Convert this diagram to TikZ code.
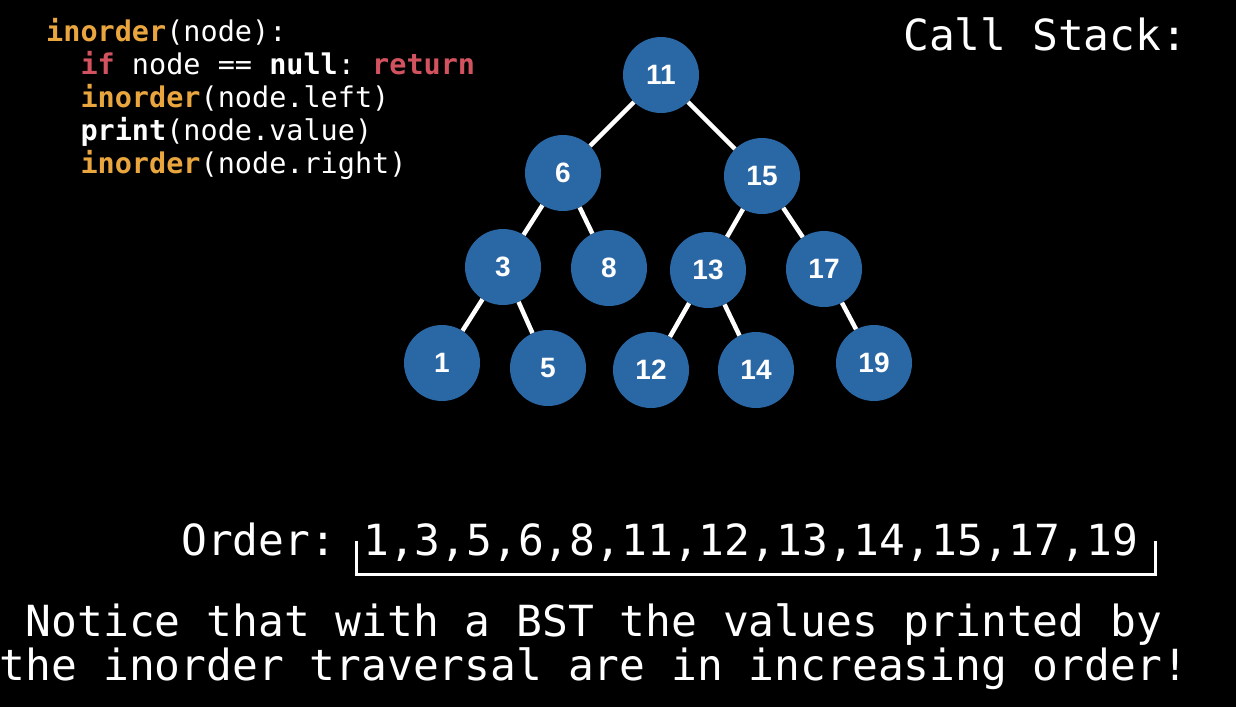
\documentclass[tikz,border=0pt]{standalone}
\usepackage{fontspec}
\setmainfont{Liberation Sans}
\setmonofont{DejaVu Sans Mono}
\definecolor{nodeblue}{HTML}{2A67A5}
\definecolor{kworange}{HTML}{E9A53E}
\definecolor{kwred}{HTML}{D2535F}
\begin{document}
\begin{tikzpicture}[x=1pt,y=-1pt,
  bstnode/.style={circle,fill=nodeblue,minimum size=76pt,inner sep=0pt,text=white,font=\fontsize{28}{28}\selectfont\bfseries},
  edge/.style={draw=white,line width=4.5pt},
  codeline/.style={anchor=base west,inner sep=0pt,text=white,font=\fontsize{28.5}{28.5}\ttfamily},
  bigtext/.style={inner sep=0pt,text=white,font=\fontsize{42.9}{42.9}\ttfamily},
  bracket/.style={draw=white,line width=3pt}]
\fill[black] (0,0) rectangle (1236,707);
\useasboundingbox (0,0) rectangle (1236,707);

% code
\node[codeline] (c1) at (46,41.5) {\textbf{\color{kworange}inorder}(node):};
\node[codeline] (c2) at (46,74.5) {\phantom{xx}\textbf{\color{kwred}if} node == \textbf{null}: \textbf{\color{kwred}return}};
\node[codeline] (c3) at (46,107.5) {\phantom{xx}\textbf{\color{kworange}inorder}(node.left)};
\node[codeline] (c4) at (46,140.5) {\phantom{xx}\textbf{print}(node.value)};
\node[codeline] (c5) at (46,173.5) {\phantom{xx}\textbf{\color{kworange}inorder}(node.right)};

\node[bigtext,anchor=base west] (cs) at (903,50) {Call Stack:};

% tree
\node[bstnode] (n11) at (661,75) {11};
\node[bstnode] (n6) at (563,173) {6};
\node[bstnode] (n15) at (762,176) {15};
\node[bstnode] (n3) at (503,267) {3};
\node[bstnode] (n8) at (609,268) {8};
\node[bstnode] (n13) at (708,270) {13};
\node[bstnode] (n17) at (824,269) {17};
\node[bstnode] (n1) at (442,363) {1};
\node[bstnode] (n5) at (548,368) {5};
\node[bstnode] (n12) at (651,370) {12};
\node[bstnode] (n14) at (756,370) {14};
\node[bstnode] (n19) at (874,363) {19};

\draw[edge] (n11) -- (n6);
\draw[edge] (n11) -- (n15);
\draw[edge] (n6) -- (n3);
\draw[edge] (n6) -- (n8);
\draw[edge] (n15) -- (n13);
\draw[edge] (n15) -- (n17);
\draw[edge] (n3) -- (n1);
\draw[edge] (n3) -- (n5);
\draw[edge] (n13) -- (n12);
\draw[edge] (n13) -- (n14);
\draw[edge] (n17) -- (n19);

% order
\node[bigtext,anchor=base west] (ordlbl) at (181,555) {Order:};
\node[bigtext,anchor=base west] (ord) at (363,555) {1,3,5,6,8,11,12,13,14,15,17,19};
\coordinate (bl) at (356,541);
\coordinate (blb) at (356,574);
\coordinate (brb) at (1155,574);
\coordinate (br) at (1155,541);
\draw[bracket] (bl) -- (blb) -- (brb) -- (br);

% notice
\node[bigtext,anchor=base] (not1) at (594,636) {Notice that with a BST the values printed by};
\node[bigtext,anchor=base] (not2) at (594,680) {the inorder traversal are in increasing order!};
\end{tikzpicture}
\end{document}
